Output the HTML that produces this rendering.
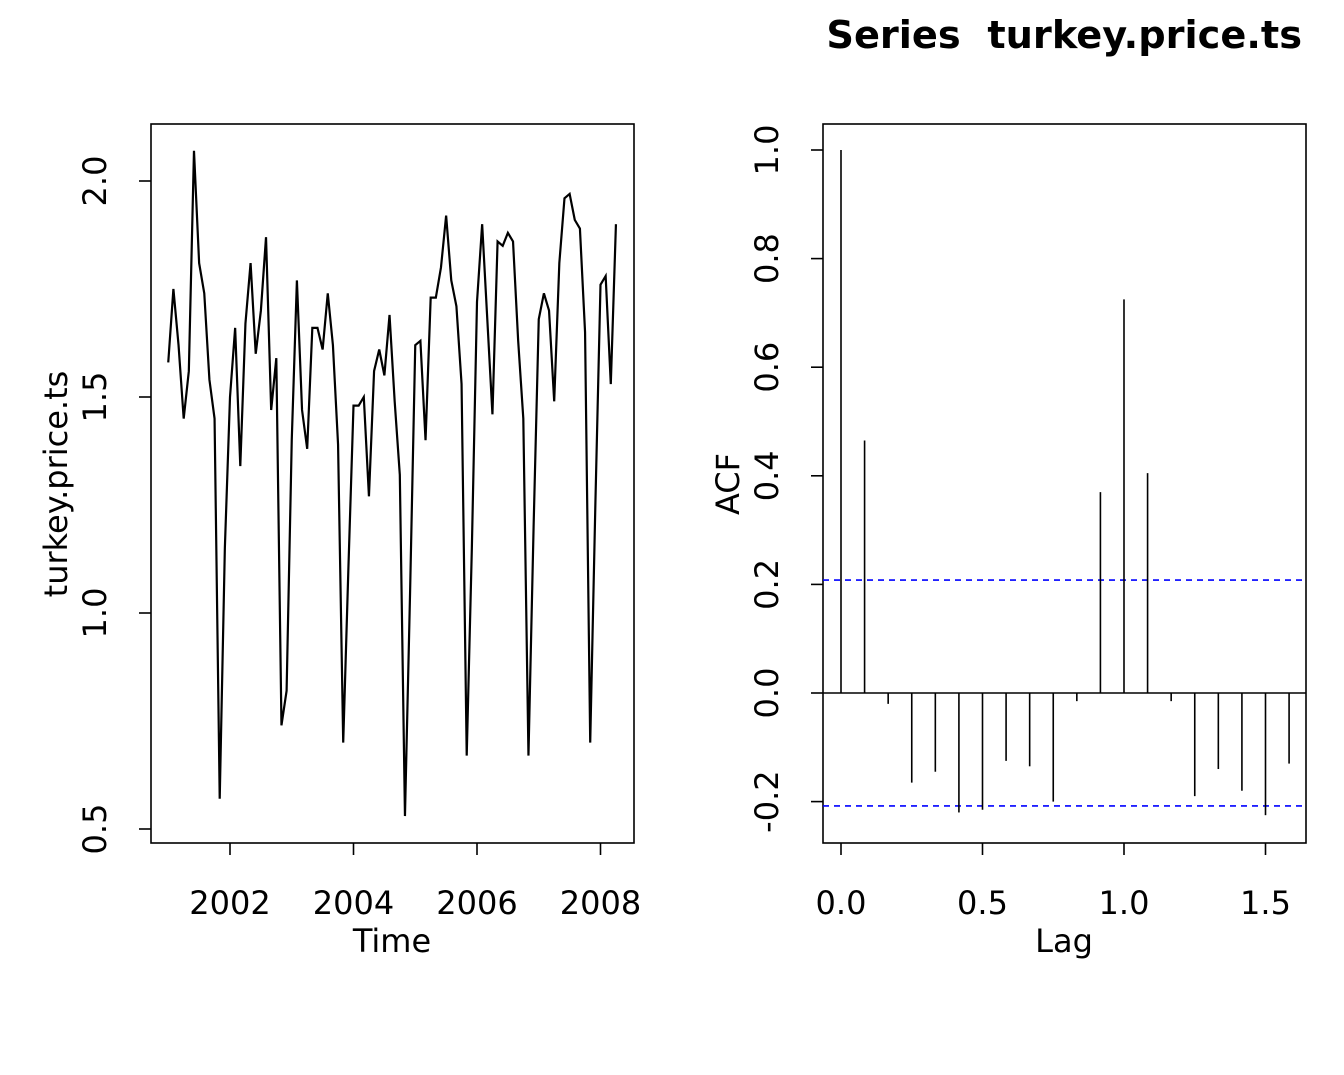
<!DOCTYPE html>
<html><head><meta charset="utf-8"><style>
html,body{margin:0;padding:0;background:#fff}
svg{display:block;font-family:"DejaVu Sans","Liberation Sans",sans-serif}
</style></head><body>
<svg id="c" width="1344" height="1075" viewBox="0 0 1344 1075" xmlns="http://www.w3.org/2000/svg">
<rect width="1344" height="1075" fill="#fff"/>
<text x="1302" y="48" text-anchor="end" font-size="38.3" font-weight="bold" style="white-space:pre">Series  turkey.price.ts</text>
</svg>
<script>
const prices=[1.58,1.75,1.62,1.45,1.56,2.07,1.81,1.74,1.54,1.45,0.57,1.15,1.50,1.66,1.34,1.67,1.81,1.60,1.70,1.87,1.47,1.59,0.74,0.82,1.40,1.77,1.47,1.38,1.66,1.66,1.61,1.74,1.62,1.39,0.70,1.10,1.48,1.48,1.50,1.27,1.56,1.61,1.55,1.69,1.49,1.32,0.53,1.05,1.62,1.63,1.40,1.73,1.73,1.80,1.92,1.77,1.71,1.53,0.67,1.15,1.72,1.90,1.68,1.46,1.86,1.85,1.88,1.86,1.63,1.45,0.67,1.20,1.68,1.74,1.70,1.49,1.81,1.96,1.97,1.91,1.89,1.65,0.70,1.25,1.76,1.78,1.53,1.90];
const startYear=2001;
const yTicksL=[0.5,1.0,1.5,2.0];
const xTicksL=[2002,2004,2006,2008];
const acf=[1,0.465,-0.02,-0.165,-0.145,-0.22,-0.215,-0.125,-0.135,-0.2,-0.015,0.37,0.725,0.405,-0.015,-0.19,-0.14,-0.18,-0.225,-0.13];
const ciBound=0.208;
const yTicksR=[-0.2,0.0,0.2,0.4,0.6,0.8,1.0];
const xTicksR=[0.0,0.5,1.0,1.5];

const svg=document.getElementById('c');
const NS='http://www.w3.org/2000/svg';
const FS=32;
function el(tag,attrs,text){const e=document.createElementNS(NS,tag);for(const k in attrs)e.setAttribute(k,attrs[k]);if(text!==undefined)e.textContent=text;svg.appendChild(e);return e;}

const xL=t=>230+(t-2002)*61.75;
const yL=v=>397-(v-1.5)*432;
let e=el('rect',{x:151,y:124,width:483,height:719,fill:'none',stroke:'#000','stroke-width':1.6});


const pts=prices.map((v,i)=>xL(startYear+i/12).toFixed(2)+','+yL(v).toFixed(2)).join(' ');
e=el('polyline',{points:pts,fill:'none',stroke:'#000','stroke-width':2.2});


yTicksL.forEach(v=>{
 e=el('line',{x1:139,x2:151,y1:yL(v),y2:yL(v),stroke:'#000','stroke-width':1.6});
 
 
 e=el('text',{x:0,y:0,'font-size':FS,'text-anchor':'middle',transform:`translate(106,${yL(v)}) rotate(-90)`},v.toFixed(1));
 
 
});
xTicksL.forEach(t=>{
 e=el('line',{x1:xL(t),x2:xL(t),y1:843,y2:855,stroke:'#000','stroke-width':1.6});
 
 
 e=el('text',{x:xL(t),y:914,'font-size':FS,'text-anchor':'middle'},String(t));
 
 
});
e=el('text',{x:392,y:952,'font-size':FS,'text-anchor':'middle'},'Time');


e=el('text',{x:0,y:0,'font-size':FS,'text-anchor':'middle',transform:'translate(67,484) rotate(-90)'},'turkey.price.ts');



const xR=l=>841+l*283;
const yR=v=>693-v*543;
e=el('rect',{x:823,y:124,width:483,height:719,fill:'none',stroke:'#000','stroke-width':1.6});


e=el('line',{x1:823,x2:1306,y1:yR(0),y2:yR(0),stroke:'#000','stroke-width':1.6});


[ciBound,-ciBound].forEach(b=>{
 e=el('line',{x1:823,x2:1306,y1:yR(b),y2:yR(b),stroke:'#0000ff','stroke-width':1.6,'stroke-dasharray':'6,5'});
 
 
});
acf.forEach((v,k)=>{
 const x=xR(k/12);
 e=el('line',{x1:x,x2:x,y1:yR(0),y2:yR(v),stroke:'#000','stroke-width':1.6});
 
 
});
yTicksR.forEach(v=>{
 e=el('line',{x1:811,x2:823,y1:yR(v),y2:yR(v),stroke:'#000','stroke-width':1.6});
 
 
 e=el('text',{x:0,y:0,'font-size':FS,'text-anchor':'middle',transform:`translate(778,${yR(v)}) rotate(-90)`},v.toFixed(1));
 
 
});
xTicksR.forEach(l=>{
 e=el('line',{x1:xR(l),x2:xR(l),y1:843,y2:855,stroke:'#000','stroke-width':1.6});
 
 
 e=el('text',{x:xR(l),y:914,'font-size':FS,'text-anchor':'middle'},l.toFixed(1));
 
 
});
e=el('text',{x:1064,y:952,'font-size':FS,'text-anchor':'middle'},'Lag');


e=el('text',{x:0,y:0,'font-size':FS,'text-anchor':'middle',transform:'translate(739,484) rotate(-90)'},'ACF');


</script>
</body></html>
